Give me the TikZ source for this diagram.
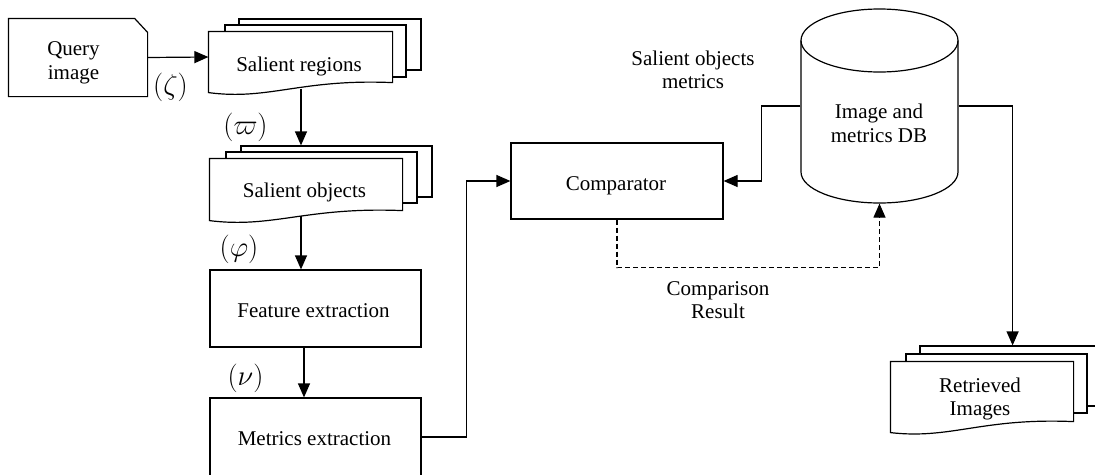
\documentclass[tikz,border=0pt]{standalone}
\usepackage{fontspec}
\setmainfont{Liberation Serif}
\usetikzlibrary{arrows.meta,calc}
\begin{document}
\begin{tikzpicture}[x=1pt,y=-1pt,line width=1.2pt,
  txt/.style={font=\fontsize{21}{23.5}\selectfont,align=center,inner sep=0pt},
  mth/.style={font=\fontsize{24.88}{27}\selectfont,inner sep=0pt},
  arr/.style={-{Triangle[length=14pt,width=12pt]}},
  page/.style={draw,fill=white,inner sep=0pt},
  shp/.style={inner sep=0pt},
  boxn/.style={draw,fill=white,inner sep=0pt},
  dash5/.style={dash pattern=on 5pt off 3pt}]
\useasboundingbox (0,0) rectangle (1095,474);
\clip (0,0) rectangle (1095,474);

% Query image (card)
\node[shp,minimum width=138,minimum height=77] (qi) at (78,57.5) {};
\draw (qi.north west) -- ($(qi.north east)+(-13,0)$) -- ($(qi.north east)+(0,14)$) -- (qi.south east) -- (qi.south west) -- cycle;
\node[txt] (qit) at (73.5,63) {Query\\image};

% Salient regions (stack)
\node[page,minimum width=182,minimum height=51] (sr3) at (330,44.5) {};
\node[page,minimum width=181,minimum height=52] (sr2) at (315.5,51) {};
\node[shp,minimum width=183,minimum height=50] (sr) at (300.5,57) {};
\draw[fill=white] (sr.north west) -- (sr.north east) -- (sr.south east)
  .. controls ($(sr.south west)!0.5!(sr.south east)+(0,-4)$) and ($(sr.south west)!0.33!(sr.south east)+(0,18)$) .. ($(sr.south west)+(0,10)$) -- cycle;
\node[txt,anchor=base] (srt) at (299,71) {Salient regions};

% Salient objects (stack)
\node[page,minimum width=191,minimum height=51] (so3) at (336.5,171.5) {};
\node[page,minimum width=191,minimum height=51] (so2) at (321.5,177.5) {};
\node[shp,minimum width=192,minimum height=51] (so) at (306,184.5) {};
\draw[fill=white] (so.north west) -- (so.north east) -- (so.south east)
  .. controls ($(so.south west)!0.5!(so.south east)+(0,-4)$) and ($(so.south west)!0.33!(so.south east)+(0,18)$) .. ($(so.south west)+(0,10)$) -- cycle;
\node[txt,anchor=base] (sot) at (304.5,197) {Salient objects};

% Feature extraction
\node[boxn,minimum width=211,minimum height=77] (fe) at (315.5,308.5) {};
\node[txt,anchor=base] (fet) at (313.5,317) {Feature extraction};

% Metrics extraction
\node[boxn,minimum width=211,minimum height=78] (me) at (315.5,437) {};
\node[txt,anchor=base] (met) at (314.5,445) {Metrics extraction};

% Comparator
\node[boxn,minimum width=212,minimum height=76] (comp) at (617,181) {};
\node[txt,anchor=base] (compt) at (616,190) {Comparator};

% Database cylinder
\node[shp,minimum width=157,minimum height=194] (db) at (879.5,106) {};
\draw (801,40.5) -- (801,172) arc (180:0:78.5 and 31) -- (958,40.5);
\draw (879.5,40.5) ellipse (78.5 and 31.5);
\node[txt] (dbt) at (879,123.5) {Image and\\metrics DB};

% Retrieved images (stack)
\node[page,minimum width=182,minimum height=60] (ri3) at (1011,376) {};
\node[page,minimum width=181,minimum height=59] (ri2) at (996.5,383.5) {};
\node[shp,minimum width=182,minimum height=59] (ri) at (982,391.5) {};
\draw[fill=white] (ri.north west) -- (ri.north east) -- (ri.south east)
  .. controls ($(ri.south west)!0.5!(ri.south east)+(0,-4)$) and ($(ri.south west)!0.33!(ri.south east)+(0,18)$) .. ($(ri.south west)+(0,11)$) -- cycle;
\node[txt] (rit) at (980,399) {Retrieved\\Images};

% free labels
\node[txt] (som) at (693,70) {Salient objects\\metrics};
\node[txt] (cr) at (718,300) {Comparison\\Result};
\node[mth] (lz) at (170.5,87.5) {\scalebox{1.15}{$(\zeta)$}};
\node[mth] (lw) at (245.5,127) {\scalebox{1.15}{$(\varpi)$}};
\node[mth] (lp) at (239,249) {\scalebox{1.15}{$(\varphi)$}};
\node[mth] (ln) at (245.5,378) {\scalebox{1.15}{$(\nu)$}};

% helper coordinates
\coordinate (c1) at ($(sr.south)+(0.5,6)$);
\coordinate (c2) at ($(so.south)+(-5,5)$);
\coordinate (c3) at ($(fe.south)+(-11.5,0)$);
\coordinate (c4) at ($(db.east)+(54,0)$);

% connectors
\draw[arr] (qi.east) -- (sr.west);
\draw[arr] (c1) -- (c1 |- so3.north);
\draw[arr] (c2) -- (c2 |- fe.north);
\draw[arr] (c3) -- (c3 |- me.north);
\draw[arr] (me.east) -- ++(45,0) |- (comp.west);
\draw[arr] (db.west) -- ++(-39,0) |- (comp.east);
\draw[arr] (db.east) -- (c4) -- (c4 |- ri3.north);
\draw[arr,dash5] (comp.south) -- ++(0,48) -| (db.south);
\end{tikzpicture}
\end{document}
